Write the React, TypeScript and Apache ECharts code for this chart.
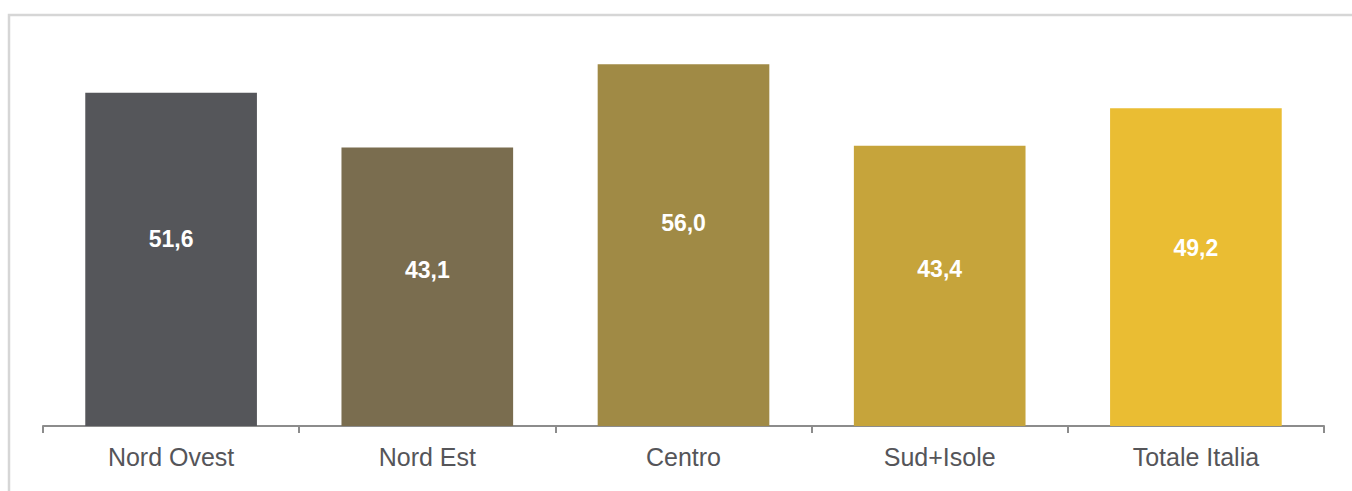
import React, { useEffect, useRef } from "react";
import * as echarts from "echarts";

const categories = ["Nord Ovest", "Nord Est", "Centro", "Sud+Isole", "Totale Italia"];
const values = [51.6, 43.1, 56.0, 43.4, 49.2];
const colors = ["#55565A", "#7A6D4F", "#A08A45", "#C6A43B", "#EABD33"];

export default function App() {
  const ref = useRef<HTMLDivElement>(null);
  useEffect(() => {
    const chart = echarts.init(ref.current!, null, { renderer: "svg" });
    chart.setOption({
      animation: false,
      graphic: [
        {
          type: "rect",
          shape: { x: 9, y: 15, width: 1400, height: 500 },
          style: { fill: "none", stroke: "#d6d6d6", lineWidth: 2.5 },
          silent: true,
        },
      ],
      grid: { left: 43, right: 28, top: 38.4, bottom: 65 },
      xAxis: {
        type: "category",
        data: categories,
        axisLine: { lineStyle: { color: "#8c8c8c", width: 2 } },
        axisTick: { show: true, length: 7, lineStyle: { color: "#8c8c8c", width: 2 } },
        axisLabel: {
          color: "#555559",
          fontSize: 25,
          fontFamily: "Liberation Sans, Arial, sans-serif",
          margin: 18,
        },
      },
      yAxis: {
        type: "value",
        min: 0,
        max: 60,
        show: false,
        splitLine: { show: false },
      },
      series: [
        {
          type: "bar",
          barWidth: "67%",
          data: values.map((v, i) => ({ value: v, itemStyle: { color: colors[i] } })),
          label: {
            show: true,
            position: ["50%", "44%"],
            align: "center",
            verticalAlign: "middle",
            color: "#ffffff",
            fontWeight: "bold",
            fontSize: 23,
            fontFamily: "Liberation Sans, Arial, sans-serif",
            formatter: (p: any) => p.value.toFixed(1).replace(".", ","),
          },
        },
      ],
    });
    return () => chart.dispose();
  }, []);
  return (
    <div
      ref={ref}
      style={{ position: "absolute", left: 0, top: 0, width: 1352, height: 491 }}
    />
  );
}
